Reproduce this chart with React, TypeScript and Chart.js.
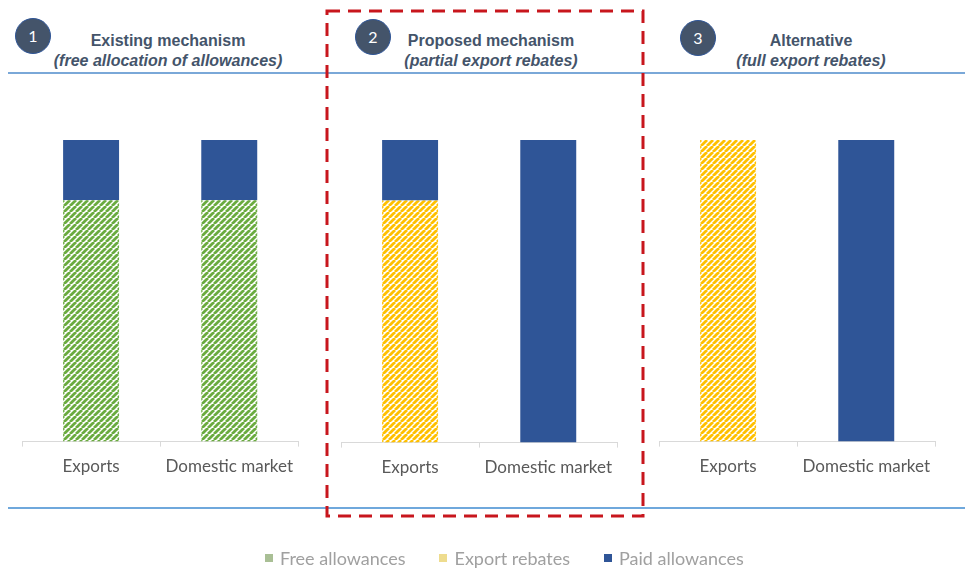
import React, { useEffect, useRef } from "react";
import { Chart, registerables } from "chart.js";

Chart.register(...registerables);

// ---- Data ----
const categories = ["Exports", "Domestic market"];

const existingFree = [80, 80];
const existingPaid = [20, 20];

const proposedRebates = [80, 0];
const proposedPaid = [20, 100];

const alternativeRebates = [100, 0];
const alternativePaid = [0, 100];

const panelTitles = ["Existing mechanism", "Proposed mechanism", "Alternative"];
const panelSubtitles = [
  "(free allocation of allowances)",
  "(partial export rebates)",
  "(full export rebates)",
];
const legendLabels = ["Free allowances", "Export rebates", "Paid allowances"];

const GREEN = "#6AAB3F";
const YELLOW = "#FFC000";
const BLUE = "#2F5597";
const NAVY = "#44546A";

function makeStripes(color: string): CanvasPattern | string {
  const s = 6;
  const c = document.createElement("canvas");
  c.width = s;
  c.height = s;
  const ctx = c.getContext("2d");
  if (!ctx) return color;
  ctx.fillStyle = "#ffffff";
  ctx.fillRect(0, 0, s, s);
  ctx.strokeStyle = color;
  ctx.lineWidth = 2.8;
  ctx.beginPath();
  for (let k = -1; k <= 1; k++) {
    ctx.moveTo(k * s, s);
    ctx.lineTo(k * s + s, 0);
  }
  ctx.stroke();
  const p = ctx.createPattern(c, "repeat");
  return p || color;
}

type DS = { label: string; data: number[]; kind: "green" | "yellow" | "blue" };

function StackChart(props: { left: number; top: number; width: number; height: number; datasets: DS[] }) {
  const ref = useRef<HTMLCanvasElement | null>(null);
  useEffect(() => {
    if (!ref.current) return;
    const bg = (k: string) => (k === "green" ? makeStripes(GREEN) : k === "yellow" ? makeStripes(YELLOW) : BLUE);
    const chart = new Chart(ref.current, {
      type: "bar",
      data: {
        labels: categories,
        datasets: props.datasets.map((d) => ({
          label: d.label,
          data: d.data,
          backgroundColor: bg(d.kind) as any,
          borderWidth: 0,
          barPercentage: 0.405,
          categoryPercentage: 1,
        })),
      },
      options: {
        animation: false,
        responsive: true,
        maintainAspectRatio: false,
        layout: { padding: 0 },
        plugins: { legend: { display: false }, tooltip: { enabled: false } },
        scales: {
          x: {
            stacked: true,
            offset: true,
            border: { display: true, color: "#d9d9d9", width: 1 },
            grid: {
              display: true,
              drawOnChartArea: false,
              drawTicks: true,
              tickLength: 5,
              color: "#d9d9d9",
              offset: true,
            },
            ticks: {
              color: "#595959",
              padding: 10,
              font: { family: "Lato", size: 17 },
              maxRotation: 0,
              autoSkip: false,
            },
          },
          y: {
            stacked: true,
            display: false,
            min: 0,
            max: 100,
          },
        },
      },
    });
    return () => chart.destroy();
  }, []);
  return (
    <div
      style={{
        position: "absolute",
        left: props.left,
        top: props.top,
        width: props.width,
        height: props.height,
      }}
    >
      <canvas ref={ref} />
    </div>
  );
}

function Header(props: { n: number; cx: number; circleX: number; circleY: number; title: string; subtitle: string }) {
  return (
    <>
      <div
        style={{
          position: "absolute",
          left: props.circleX - 18,
          top: props.circleY - 18,
          width: 34,
          height: 34,
          borderRadius: "50%",
          background: NAVY,
          border: "1px solid #2F5597",
          color: "#ffffff",
          fontFamily: "Lato",
          fontSize: 16,
          lineHeight: "34px",
          textAlign: "center",
        }}
      >
        {props.n}
      </div>
      <div
        style={{
          position: "absolute",
          left: props.cx - 160,
          width: 320,
          top: 31,
          textAlign: "center",
          color: NAVY,
          fontFamily: "Liberation Sans, Arial, sans-serif",
          fontWeight: "bold",
          fontSize: 16,
          lineHeight: "20px",
        }}
      >
        <div>{props.title}</div>
        <div style={{ fontStyle: "italic" }}>{props.subtitle}</div>
      </div>
    </>
  );
}

export default function App() {
  return (
    <div
      style={{
        position: "absolute",
        left: 0,
        top: 0,
        width: 965,
        height: 572,
        background: "#ffffff",
        overflow: "hidden",
      }}
    >
      <Header n={1} cx={168} circleX={33} circleY={36} title={panelTitles[0]} subtitle={panelSubtitles[0]} />
      <Header n={2} cx={491} circleX={373} circleY={37} title={panelTitles[1]} subtitle={panelSubtitles[1]} />
      <Header n={3} cx={811} circleX={698} circleY={38} title={panelTitles[2]} subtitle={panelSubtitles[2]} />

      <div style={{ position: "absolute", left: 8, top: 72, width: 957, height: 2, background: "#7AA8D8" }} />
      <div style={{ position: "absolute", left: 8, top: 507, width: 957, height: 2, background: "#6FA8DC" }} />

      <StackChart
        left={22}
        top={140}
        width={281}
        height={347}
        datasets={[
          { label: legendLabels[0], data: existingFree, kind: "green" },
          { label: legendLabels[2], data: existingPaid, kind: "blue" },
        ]}
      />
      <StackChart
        left={341}
        top={140}
        width={281}
        height={348}
        datasets={[
          { label: legendLabels[1], data: proposedRebates, kind: "yellow" },
          { label: legendLabels[2], data: proposedPaid, kind: "blue" },
        ]}
      />
      <StackChart
        left={659}
        top={140}
        width={281}
        height={347}
        datasets={[
          { label: legendLabels[1], data: alternativeRebates, kind: "yellow" },
          { label: legendLabels[2], data: alternativePaid, kind: "blue" },
        ]}
      />

      <svg style={{ position: "absolute", left: 0, top: 0 }} width={965} height={572}>
        <rect
          x={327}
          y={11}
          width={316}
          height={505}
          fill="none"
          stroke="#C8161D"
          strokeWidth={3}
          strokeDasharray="13 8"
        />
      </svg>

      <div
        style={{
          position: "absolute",
          left: 265,
          top: 547,
          display: "flex",
          gap: 34,
          fontFamily: "Lato",
          fontSize: 18,
          color: "#A0A0A0",
          lineHeight: "22px",
          whiteSpace: "nowrap",
        }}
      >
        {[
          { label: legendLabels[0], color: "#A9BF95" },
          { label: legendLabels[1], color: "#EEDC8E" },
          { label: legendLabels[2], color: BLUE },
        ].map((it) => (
          <div key={it.label} style={{ display: "flex", alignItems: "center", gap: 7 }}>
            <span style={{ display: "inline-block", width: 8, height: 8, background: it.color }} />
            <span>{it.label}</span>
          </div>
        ))}
      </div>
    </div>
  );
}
